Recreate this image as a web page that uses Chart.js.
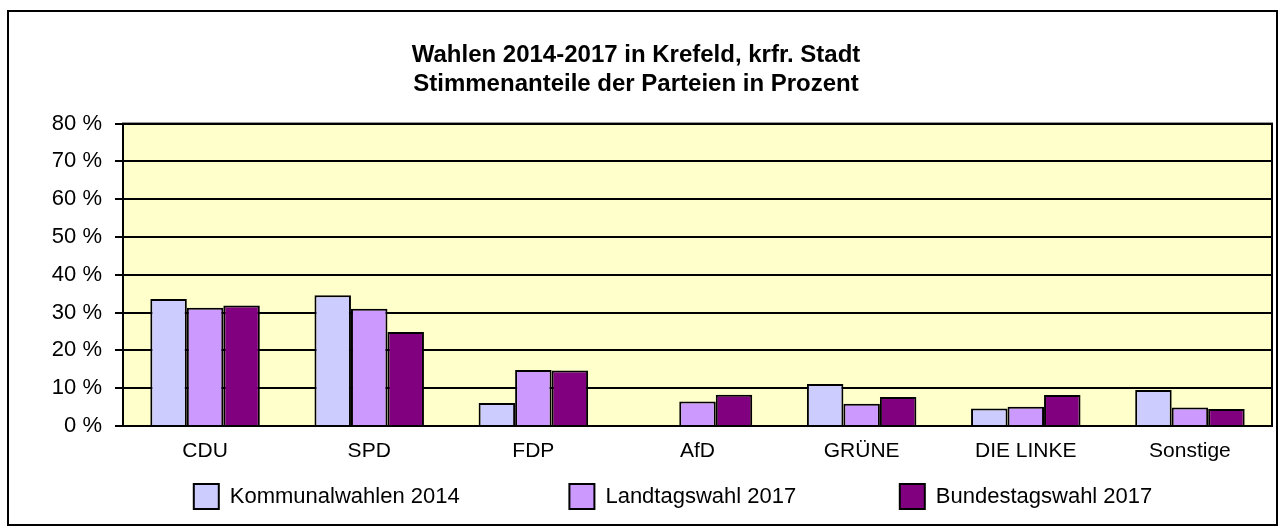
<!DOCTYPE html>
<html>
<head>
<meta charset="utf-8">
<script src="https://cdn.jsdelivr.net/npm/chart.js@4"></script>
<style>
  html, body { margin: 0; padding: 0; background: #fff; }
  canvas { display: block; }
</style>
</head>
<body>
<canvas id="wahlen" width="1285" height="530"></canvas>
<script>
const parteien = ['CDU', 'SPD', 'FDP', 'AfD', 'GRÜNE', 'DIE LINKE', 'Sonstige']

// Stimmenanteile in Prozent (AfD trat 2014 nicht an)
const kommunal2014 = [33.6, 34.6, 6.1, null, 11.1, 4.6, 9.5]
const landtag2017 = [31.3, 31.0, 14.8, 6.5, 5.9, 5.1, 4.9]
const bundestag2017 = [31.9, 24.9, 14.7, 8.3, 7.7, 8.2, 4.5]

const titel = ['Wahlen 2014-2017 in Krefeld, krfr. Stadt', 'Stimmenanteile der Parteien in Prozent']

const schrift = "'Liberation Sans', Arial, sans-serif"

// gelber Plotbereich, Rahmen um Plot und Diagramm
const rahmen = {
  id: 'rahmen',
  beforeDraw(chart) {
    const {ctx, chartArea: a} = chart
    ctx.save()
    ctx.fillStyle = '#fff'
    ctx.fillRect(0, 0, chart.width, chart.height)
    ctx.fillStyle = '#FFFFCC'
    ctx.fillRect(a.left, a.top, a.right - a.left, a.bottom - a.top)
    ctx.restore()
  },
  afterDraw(chart) {
    const {ctx, chartArea: a} = chart
    ctx.save()
    ctx.strokeStyle = '#000'
    ctx.lineWidth = 2
    ctx.strokeRect(a.left, a.top, a.right - a.left, a.bottom - a.top)
    ctx.strokeRect(8, 11, 1269, 514)
    ctx.restore()
  }
}

// zusaetzliche Leerzeichen hinter den Legendeneintraegen (Abstand wie im Original)
const legendenLuecke = [15, 14, 8]

new Chart(document.querySelector('#wahlen'), {
  type: 'bar',
  data: {
    labels: parteien,
    datasets: [
      { label: 'Kommunalwahlen 2014', data: kommunal2014, backgroundColor: '#CCCCFF' },
      { label: 'Landtagswahl 2017', data: landtag2017, backgroundColor: '#CC99FF' },
      { label: 'Bundestagswahl 2017', data: bundestag2017, backgroundColor: '#800080' }
    ]
  },
  options: {
    responsive: false,
    animation: false,
    devicePixelRatio: 1,
    datasets: {
      bar: {
        borderColor: '#000',
        borderWidth: 2,
        categoryPercentage: 0.667,
        barPercentage: 1.0
      }
    },
    layout: { padding: { top: 0, right: 13, bottom: 11, left: 0 } },
    scales: {
      y: {
        min: 0,
        max: 80,
        afterFit(scale) { scale.width = 123 },
        ticks: {
          stepSize: 10,
          color: '#000',
          padding: 13,
          font: { family: schrift, size: 22 },
          callback: v => v + ' %'
        },
        grid: { color: '#000', lineWidth: 2, tickLength: 8 },
        border: { color: '#000', width: 2 }
      },
      x: {
        afterFit(scale) { scale.height = 40 },
        ticks: {
          color: '#000',
          padding: 13,
          autoSkip: false,
          maxRotation: 0,
          font: { family: schrift, size: 21 }
        },
        grid: { display: false, drawTicks: false },
        border: { color: '#000', width: 2 }
      }
    },
    plugins: {
      title: {
        display: true,
        text: titel,
        color: '#000',
        font: { family: schrift, size: 24, weight: 'bold', lineHeight: 1.2 },
        padding: { top: 41, bottom: 25 }
      },
      legend: {
        position: 'bottom',
        fullSize: false,
        labels: {
          color: '#000',
          boxWidth: 25,
          boxHeight: 25,
          padding: 18,
          font: { family: schrift, size: 22 },
          generateLabels(chart) {
            const items = Chart.defaults.plugins.legend.labels.generateLabels(chart)
            items.forEach((it, i) => {
              it.text = it.text + '\u00a0'.repeat(legendenLuecke[i])
              it.lineWidth = 2
              it.strokeStyle = '#000'
            })
            return items
          }
        }
      },
      tooltip: { enabled: false }
    }
  },
  plugins: [rahmen]
})
</script>
</body>
</html>
